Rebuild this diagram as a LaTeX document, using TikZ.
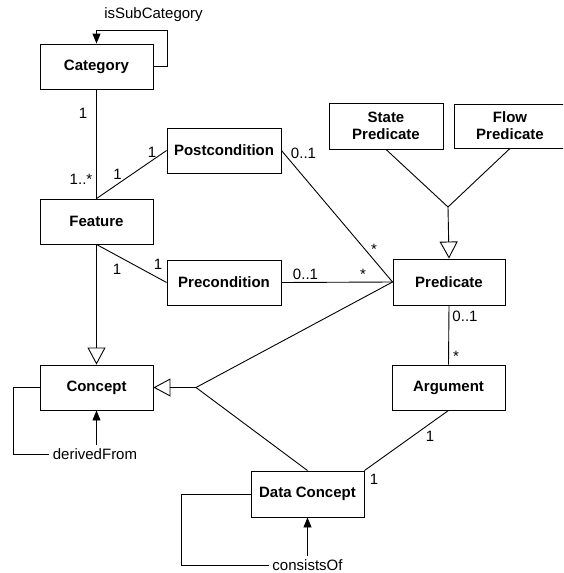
\documentclass[tikz,border=0pt]{standalone}
\usepackage{fontspec}
\setmainfont{Liberation Sans}
\usetikzlibrary{arrows.meta}
\begin{document}
\begin{tikzpicture}[x=1pt,y=-1pt,line width=0.9pt,
  cls/.style={draw,fill=white,minimum width=113pt,minimum height=45pt,inner sep=1pt,align=center,
    font=\fontsize{15}{17}\selectfont\bfseries},
  lbl/.style={inner sep=1pt,font=\fontsize{15}{17}\selectfont},
  gen/.style={-{Triangle[open,length=17pt,width=18pt,line width=0.9pt]}},
  nav/.style={-{Triangle[length=10pt,width=8pt]}}]
\useasboundingbox (0,0) rectangle (563,573);
\clip (0,0) rectangle (563,573);
% classes
\node[cls] (category) at (96.5,66.5) {Category};
\node[cls] (feature) at (96.5,221.5) {Feature};
\node[cls] (concept) at (96.5,387.5) {Concept};
\node[cls,minimum width=114pt] (post) at (224,150.5) {Postcondition};
\node[cls,minimum width=114pt] (pre) at (224,282.5) {Precondition};
\node[cls,minimum width=114pt,minimum height=46pt] (state) at (386,126) {State\\Predicate};
\node[cls,minimum width=112pt,minimum height=44pt] (flow) at (510,126) {Flow\\Predicate};
\node[cls,minimum width=112pt,minimum height=46pt] (pred) at (449,282) {Predicate};
\node[cls] (arg) at (448.5,387.5) {Argument};
\node[cls,minimum height=46pt] (data) at (307.5,494) {Data Concept};
% junctions
\coordinate (g1) at (448,207);
\coordinate (g2) at (196,387.5);
% associations
\draw (category.south) -- (feature.north);
\draw (feature.north) -- (post.west);
\draw (feature.south) -- (pre.west);
\draw (post.east) -- (pred.west);
\draw (pre.east) -- (pred.west);
\draw (pred.south) -- (arg.north);
\draw (arg.south) -- (data.north east);
% generalizations
\draw[gen] (feature.south) -- (concept.north);
\draw (state.south) -- (g1);
\draw (flow.south) -- (g1);
\draw[gen] (g1) -- (pred.north);
\draw[gen] (g2) -- (concept.east);
\draw (g2) -- (pred.west);
\draw (g2) -- (data.north);
% self loops
\node[lbl] (sub) at (153.5,15) {isSubCategory};
\draw[nav] (category.east) -- (167,66.5) -- (167,30) -- (96.5,30) -- (category.north);
\node[lbl,inner sep=3pt] (df) at (95,454) {derivedFrom};
\draw (concept.west) -- (13,387.5) -- (13,454) -- (df.west);
\draw[nav] (concept.south |- df.north) -- (concept.south);
\node[lbl,inner sep=3pt] (co) at (307.5,565) {consistsOf};
\draw (data.west) -- (181,494) -- (181,565) -- (co.west);
\draw[nav] (data.south |- co.north) -- (data.south);
% multiplicities
\node[lbl] (m1) at (83,113) {1};
\node[lbl] (m2) at (81,179) {1..*};
\node[lbl] (m3) at (117.5,174) {1};
\node[lbl] (m4) at (152,152) {1};
\node[lbl] (m5) at (117,269) {1};
\node[lbl] (m6) at (158,264) {1};
\node[lbl] (m7) at (303.5,153) {0..1};
\node[lbl] (m8) at (374,249) {*};
\node[lbl] (m9) at (305.5,274) {0..1};
\node[lbl] (m10) at (363,274) {*};
\node[lbl] (m11) at (465,316) {0..1};
\node[lbl] (m12) at (456,356) {*};
\node[lbl] (m13) at (430,436) {1};
\node[lbl] (m14) at (374,479) {1};
\end{tikzpicture}
\end{document}
